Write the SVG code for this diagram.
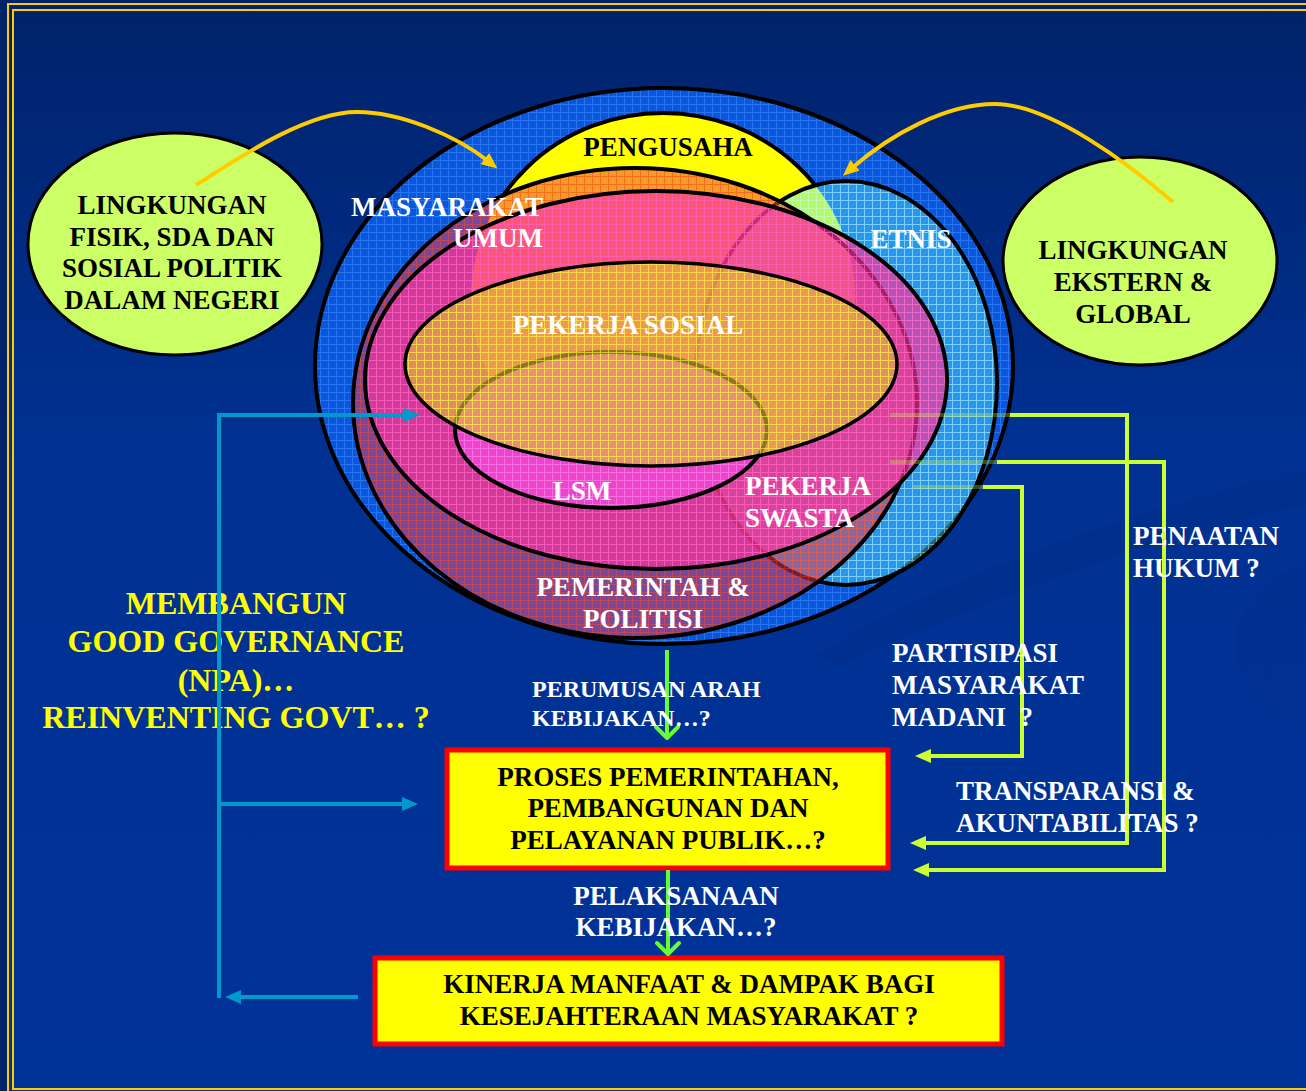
<svg xmlns="http://www.w3.org/2000/svg" width="1306" height="1091" viewBox="0 0 1306 1091">
<style>
.t{font-family:"Liberation Serif","Times New Roman",serif;font-weight:bold;font-size:27px}
.w{fill:#ffffff}.k{fill:#000000}.y{fill:#ffff00}
.c{text-anchor:middle}
.ol{fill:none;stroke:#000;stroke-width:4}
.blue{fill:none;stroke:#0099cc;stroke-width:4}
.lime{fill:none;stroke:#ccff33;stroke-width:4}
.grn{fill:none;stroke:#66ff33;stroke-width:4}
.gold{fill:none;stroke:#ffcc00;stroke-width:4}
.box{fill:#ffff00;stroke:#ff0000;stroke-width:5}
.env{fill:#ccff66;stroke:#000;stroke-width:3}
.big{font-size:32px}
.sm{font-size:24px}
</style>
<defs>
<linearGradient id="bg" x1="0" y1="0" x2="0" y2="1">
<stop offset="0" stop-color="#00226a"/>
<stop offset="0.4" stop-color="#003192"/>
<stop offset="1" stop-color="#003399"/>
</linearGradient>
<pattern id="gA" width="8" height="8" patternUnits="userSpaceOnUse"><path d="M0 0.5H8M0.5 0V8" stroke="#4592ff" stroke-width="1"/></pattern>
<pattern id="gEt" width="8" height="8" patternUnits="userSpaceOnUse"><path d="M0 0.5H8M0.5 0V8" stroke="#c8ffff" stroke-width="1"/></pattern>
<pattern id="gE1" width="8" height="8" patternUnits="userSpaceOnUse"><path d="M0 0.5H8M0.5 0V8" stroke="#ff3300" stroke-width="1"/></pattern>
<pattern id="gE2" width="8" height="8" patternUnits="userSpaceOnUse"><path d="M0 0.5H8M0.5 0V8" stroke="#ff66cc" stroke-width="1"/></pattern>
<pattern id="gE3" width="8" height="8" patternUnits="userSpaceOnUse"><path d="M0 0.5H8M0.5 0V8" stroke="#ffff33" stroke-width="1"/></pattern>
<pattern id="gL" width="8" height="8" patternUnits="userSpaceOnUse"><path d="M0 0.5H8M0.5 0V8" stroke="#ff88ee" stroke-width="1"/></pattern>
<mask id="mY" maskUnits="userSpaceOnUse" x="0" y="0" width="1306" height="1091">
<rect width="1306" height="1091" fill="#fff"/>
<ellipse cx="635" cy="403" rx="282" ry="235" fill="#000"/>
<ellipse cx="846" cy="383" rx="151" ry="202" fill="#000"/>
</mask>
<marker id="triBlue" viewBox="0 0 16 14" refX="4" refY="7" markerWidth="16" markerHeight="14" markerUnits="userSpaceOnUse" orient="auto"><path d="M0 0L16 7L0 14Z" fill="#0099cc"/></marker>
<marker id="triLime" viewBox="0 0 16 14" refX="4" refY="7" markerWidth="16" markerHeight="14" markerUnits="userSpaceOnUse" orient="auto"><path d="M0 0L16 7L0 14Z" fill="#ccff33"/></marker>
<marker id="triGold" viewBox="0 0 16 14" refX="4" refY="7" markerWidth="16" markerHeight="14" markerUnits="userSpaceOnUse" orient="auto"><path d="M0 0L16 7L0 14Z" fill="#ffcc00"/></marker>
<marker id="chev" viewBox="-15 -14 18 28" refX="0" refY="0" markerWidth="18" markerHeight="28" markerUnits="userSpaceOnUse" orient="auto"><path d="M-11 -11L0 0L-11 11" fill="none" stroke="#66ff33" stroke-width="4" stroke-linecap="round" stroke-linejoin="round"/></marker>
</defs>

<rect width="1306" height="1091" fill="#002266"/>
<rect x="8" y="4" width="1310" height="1100" fill="url(#bg)"/>
<path d="M815,655 C950,575 1130,510 1306,470 L1306,505 C1140,540 990,600 840,665 Z" fill="#002a86" opacity="0.3"/>
<path d="M1306,560 C1240,590 1210,650 1260,700 C1280,720 1306,730 1306,730 Z" fill="#002a86" opacity="0.25"/>
<rect x="8" y="4" width="1310" height="1100" fill="none" stroke="#ffcc00" stroke-width="2"/>
<rect x="13" y="10" width="1300" height="1079" fill="none" stroke="#ffcc00" stroke-width="2"/>

<g id="masyarakat-umum">
<ellipse cx="664" cy="366" rx="349" ry="278" fill="#0a56dc"/>
<ellipse cx="664" cy="366" rx="349" ry="278" fill="url(#gA)" fill-opacity="0.5" stroke="#000" stroke-width="4"/>
</g>

<g id="pengusaha">
<ellipse cx="663" cy="298" rx="192" ry="185" fill="#ffff00"/>
<ellipse cx="663" cy="298" rx="192" ry="185" class="ol" mask="url(#mY)"/>
<text class="t k c" x="668" y="156">PENGUSAHA</text>
</g>

<g id="etnis">
<ellipse cx="846" cy="383" rx="151" ry="202" fill="#55eeff" fill-opacity="0.42"/>
<ellipse cx="846" cy="383" rx="151" ry="202" fill="url(#gEt)" fill-opacity="0.45" stroke="#000" stroke-width="4"/>
<text class="t w c" x="911" y="248">ETNIS</text>
</g>

<g id="pemerintah-politisi">
<ellipse cx="635" cy="403" rx="282" ry="235" fill="#e83a58" fill-opacity="0.5"/>
<ellipse cx="635" cy="403" rx="282" ry="235" fill="url(#gE1)" fill-opacity="0.45" stroke="#000" stroke-width="4"/>
<text class="t w c" x="643" y="596">PEMERINTAH &amp;</text>
<text class="t w c" x="643" y="628">POLITISI</text>
</g>

<g id="pekerja-swasta">
<ellipse cx="656" cy="380" rx="291" ry="189" fill="#ff3399" fill-opacity="0.65"/>
<ellipse cx="656" cy="380" rx="291" ry="189" fill="url(#gE2)" fill-opacity="0.7" stroke="#000" stroke-width="4"/>
<text class="t w" x="745" y="495">PEKERJA</text>
<text class="t w" x="745" y="527">SWASTA</text>
</g>

<g id="lsm">
<ellipse cx="611" cy="430" rx="156" ry="78" fill="#ee44cc"/>
<ellipse cx="611" cy="430" rx="156" ry="78" fill="url(#gL)" fill-opacity="0.6" stroke="#000" stroke-width="4"/>
<text class="t w c" x="582" y="500">LSM</text>
</g>

<g id="pekerja-sosial">
<ellipse cx="651" cy="364" rx="246" ry="102" fill="#e6c43c" fill-opacity="0.6"/>
<ellipse cx="651" cy="364" rx="246" ry="102" fill="url(#gE3)" fill-opacity="0.6" stroke="#000" stroke-width="3.5"/>
<text class="t w c" x="628" y="334">PEKERJA SOSIAL</text>
</g>

<g id="masyarakat-umum-label">
<text class="t w" x="543" y="216" text-anchor="end">MASYARAKAT</text>
<text class="t w" x="543" y="247" text-anchor="end">UMUM</text>
</g>

<g id="lingkungan-dalam-negeri">
<ellipse class="env" cx="175" cy="244" rx="147" ry="111"/>
<text class="t k c" x="172" y="214">LINGKUNGAN</text>
<text class="t k c" x="172" y="246">FISIK, SDA DAN</text>
<text class="t k c" x="172" y="277">SOSIAL POLITIK</text>
<text class="t k c" x="172" y="309">DALAM NEGERI</text>
</g>

<g id="lingkungan-ekstern">
<ellipse class="env" cx="1140" cy="261" rx="137" ry="104"/>
<text class="t k c" x="1133" y="259">LINGKUNGAN</text>
<text class="t k c" x="1133" y="291">EKSTERN &amp;</text>
<text class="t k c" x="1133" y="323">GLOBAL</text>
</g>

<g id="proses">
<rect class="box" x="447" y="750" width="441" height="118"/>
<text class="t k c" x="668" y="786">PROSES PEMERINTAHAN,</text>
<text class="t k c" x="668" y="817">PEMBANGUNAN DAN</text>
<text class="t k c" x="668" y="849">PELAYANAN PUBLIK…?</text>
</g>

<g id="kinerja">
<rect class="box" x="375" y="958" width="627" height="86"/>
<text class="t k c" x="689" y="993">KINERJA MANFAAT &amp; DAMPAK BAGI</text>
<text class="t k c" x="689" y="1025">KESEJAHTERAAN MASYARAKAT ?</text>
</g>

<g id="good-governance">
<text class="t y c big" x="236" y="614">MEMBANGUN</text>
<text class="t y c big" x="236" y="652">GOOD GOVERNANCE</text>
<text class="t y c big" x="236" y="691">(NPA)…</text>
<text class="t y c big" x="236" y="728">REINVENTING GOVT… ?</text>
</g>

<g id="connectors">
<path class="gold" d="M196,185 C250,150 310,112 357,112 C400,112 455,135 488,161" marker-end="url(#triGold)"/>
<path class="gold" d="M1173,202 C1130,165 1050,104 995,104 C945,104 890,135 852,168" marker-end="url(#triGold)"/>
<path class="blue" d="M219,998 V415 H408" marker-end="url(#triBlue)"/>
<path class="blue" d="M219,804 H406" marker-end="url(#triBlue)"/>
<path class="blue" d="M358,997 H237" marker-end="url(#triBlue)"/>
<path class="lime" d="M890,415 H1010 M890,462 H997 M913,487 H983" stroke-opacity="0.3"/>
<path class="lime" d="M1010,415 H1127 V843 H922" marker-end="url(#triLime)"/>
<path class="lime" d="M997,462 H1164 V870 H925" marker-end="url(#triLime)"/>
<path class="lime" d="M983,487 H1022 V756 H927" marker-end="url(#triLime)"/>
<path class="grn" d="M667,650 V738" marker-end="url(#chev)"/>
<path class="grn" d="M668,870 V954" marker-end="url(#chev)"/>
</g>

<g id="connector-labels">
<text class="t w sm" x="532" y="697">PERUMUSAN ARAH</text>
<text class="t w sm" x="532" y="726">KEBIJAKAN…?</text>
<text class="t w c" x="676" y="905">PELAKSANAAN</text>
<text class="t w c" x="676" y="936">KEBIJAKAN…?</text>
<text class="t w" x="892" y="662">PARTISIPASI</text>
<text class="t w" x="892" y="694">MASYARAKAT</text>
<text class="t w" x="892" y="726" xml:space="preserve">MADANI  ?</text>
<text class="t w" x="1133" y="545">PENAATAN</text>
<text class="t w" x="1133" y="577">HUKUM ?</text>
<text class="t w" x="956" y="800">TRANSPARANSI &amp;</text>
<text class="t w" x="956" y="832">AKUNTABILITAS ?</text>
</g>
</svg>
